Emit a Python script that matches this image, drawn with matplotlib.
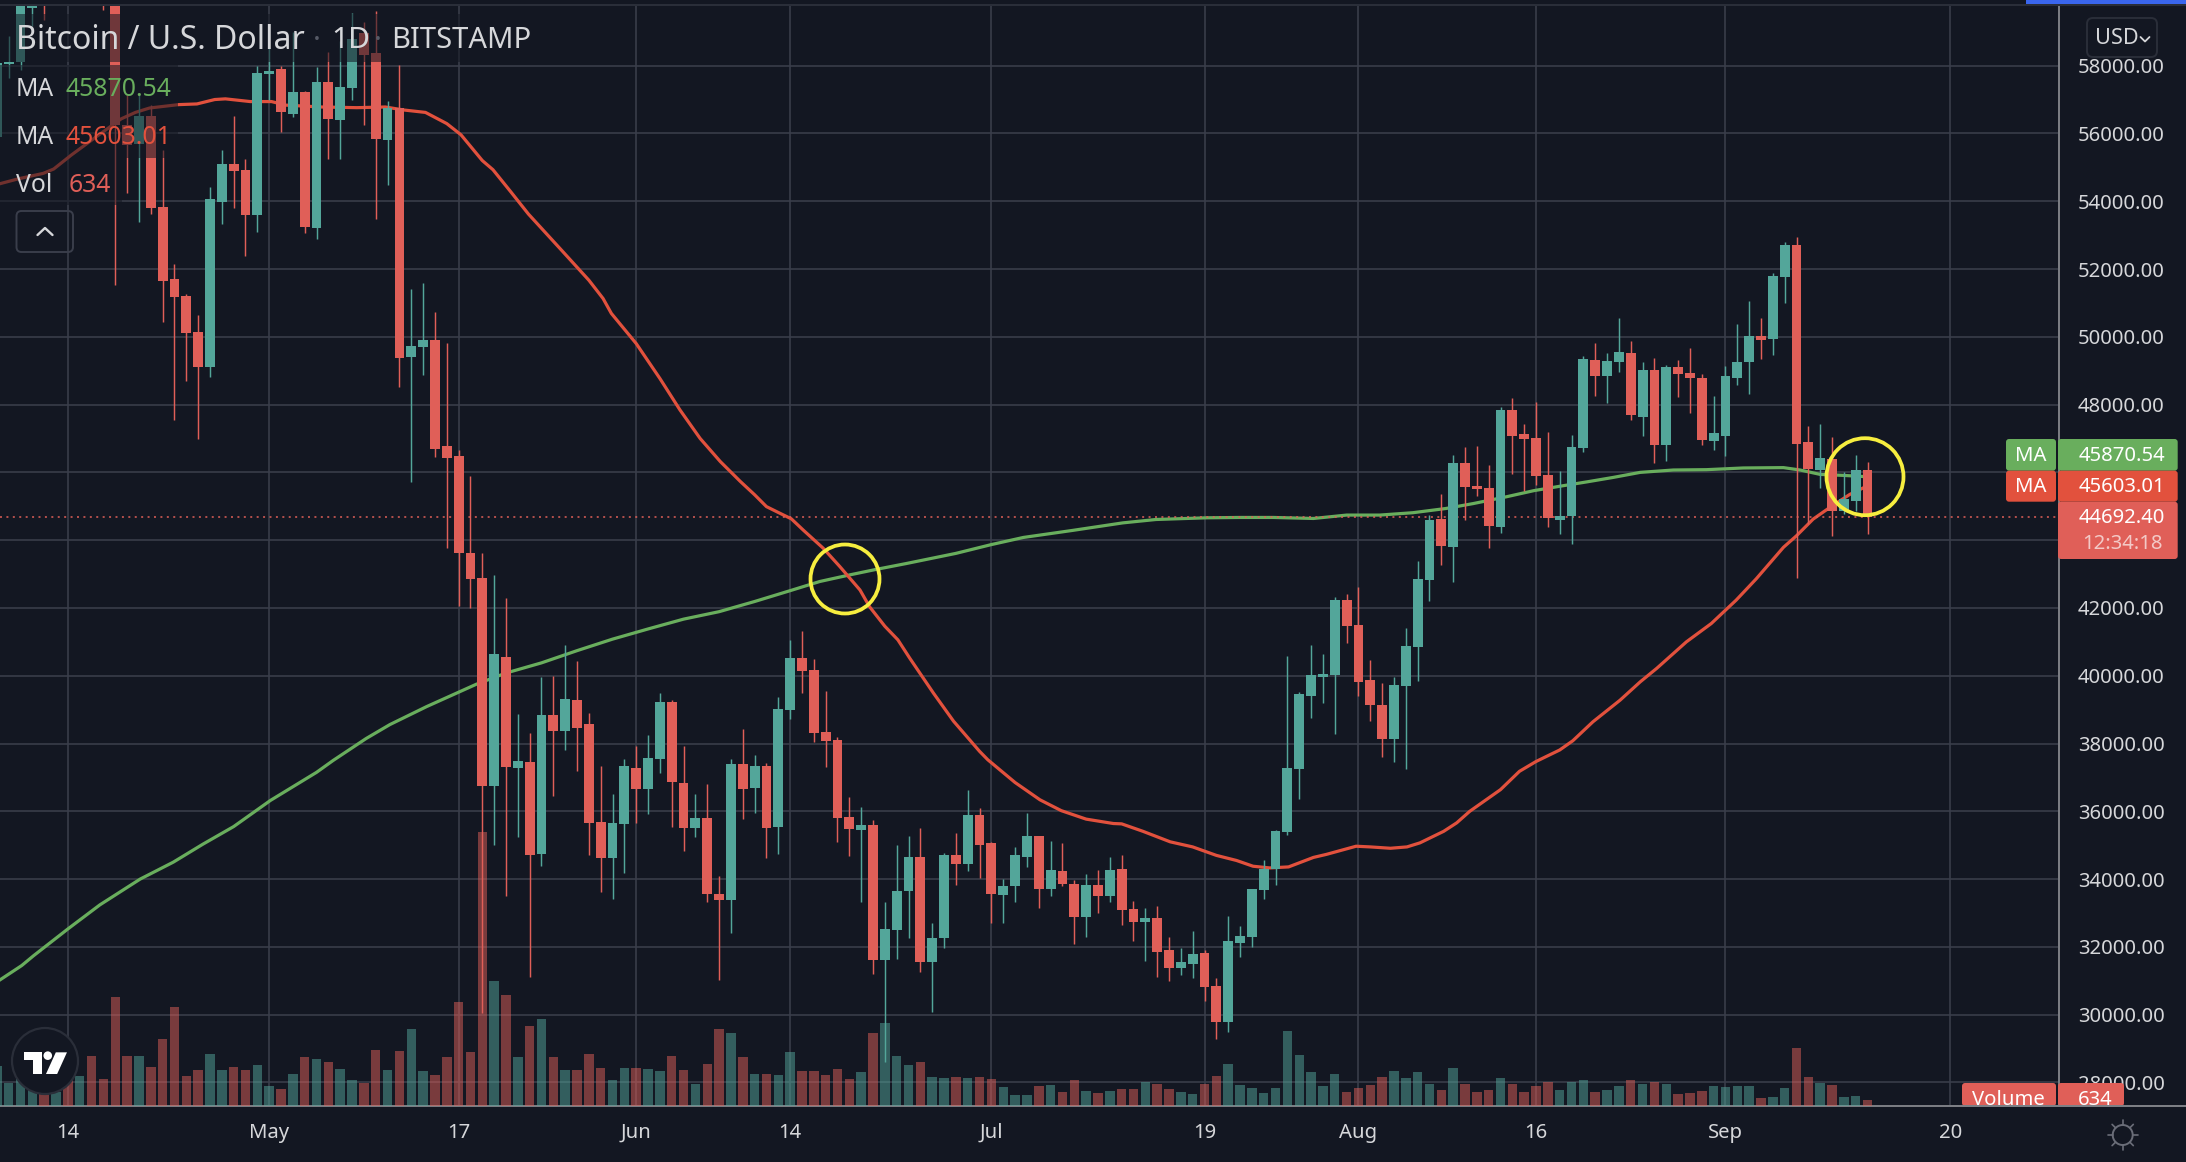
import numpy as np
import matplotlib
matplotlib.use("Agg")
import matplotlib.pyplot as plt
from matplotlib.patches import Circle, FancyBboxPatch, Polygon, Rectangle
from matplotlib.lines import Line2D
from matplotlib.transforms import IdentityTransform, Bbox

# ---------- data (bar index 0 = 14 Apr 2021) ----------
first_bar = -6
open_ = [55890,58040,58110,59700,60200,60000,63500,62950,63200,61400,60050,56240,55690,56500,53840,51700,51200,50140,49100,53990,
         55110,54910,53580,57760,57890,56580,57230,53200,57520,56410,57350,58960,58360,55820,56760,49400,49690,49900,46790,46490,
         43610,42880,36760,40560,37290,37460,34730,38840,38360,39280,38570,35690,34620,35630,37280,36670,37550,39230,36840,35520,
         35810,33570,33390,37400,36690,37350,35540,38990,40520,40170,38350,38110,35830,35450,35600,31600,32510,33660,34660,31560,
         32270,34720,34460,35900,35080,33520,33790,34640,35260,33700,34230,33870,32870,33840,33490,34290,33110,32730,32840,31900,
         31370,31490,31820,30850,29790,32110,32290,33670,34290,35400,37250,39400,39960,40020,42230,41490,39870,39130,38130,39700,
         40850,42820,44620,43790,46270,45590,45530,44380,47830,47130,47010,45920,44590,44710,46710,49310,48840,49250,49520,47630,
         49010,46800,49100,48930,48780,46920,47070,48780,49270,50030,49940,51760,52700,46910,46060,46380,44850,45150,46060]
high = [58700,58880,61000,60300,61200,63800,64850,63800,63500,62500,60400,57130,57130,56840,55500,52140,51250,50640,54410,55520,
        56500,55260,58000,58520,57980,58980,57260,57960,58390,58740,59550,59280,59610,56950,58020,51420,51580,50730,49810,46670,
        45900,43630,42980,42280,38880,38310,39960,39990,40910,40430,38900,37350,36510,37550,37930,38250,39490,39280,37930,36510,
        36800,34100,37550,38430,37660,37420,39370,41050,41310,40490,39550,38190,36430,36140,35750,33310,35010,35280,35520,32710,
        34780,35370,36640,36110,35100,33990,34960,35960,35280,35110,35080,33960,34140,34260,34640,34700,33340,33140,33200,32290,
        31960,32460,31900,31080,32900,32610,33720,34550,35460,40580,39520,40900,40640,42320,42410,42610,40460,39780,39960,41410,
        43380,44740,45360,46510,46740,46770,46210,47920,48190,47420,48070,47190,46040,47100,49430,49810,49520,50550,49870,49250,
        49370,49160,49310,49660,48900,48250,49130,50370,51060,50560,51880,52790,52940,47380,47440,47030,46000,46500,46300]
low = [55700,57650,57870,59180,59340,59900,61300,62000,60000,59650,51530,54250,53380,53620,50430,47550,48690,46980,48810,53320,
       53790,52370,53080,57000,56050,56480,53050,52900,55260,55260,56980,56240,53490,54490,48520,45710,48880,46460,43780,42060,
       42000,30050,35000,33490,35230,31120,34390,36450,37820,37200,34700,33630,33400,34170,35670,35910,37140,35540,34820,35230,
       33320,31010,32400,35780,35940,34610,34750,38720,39490,38040,37310,35100,34690,33310,31210,28590,31650,32270,31250,30070,
       31980,33830,34230,34020,32700,32700,33310,34370,33140,33490,33790,32080,32290,32990,33310,32640,32170,31580,31110,30990,
       31170,31080,30400,29290,29490,31700,31990,33400,33840,35290,36370,38750,39190,38280,40960,39400,38660,37600,37450,37250,
       39840,42200,43260,42760,44590,45300,43760,44210,45950,45450,45620,44380,44180,43880,46600,48250,48040,48960,47540,47070,
       46270,46330,48220,47750,46800,46660,46480,48570,48320,49350,49470,51000,42890,44470,45530,44120,44770,44850,44180]
close = [58090,58100,59900,59760,60000,63500,62950,63200,61400,60050,56240,55660,56500,53790,51660,51160,50110,49100,54080,55110,
         54880,53580,57790,57850,56620,57230,53230,57520,56430,57380,58790,58300,55840,56760,49370,49730,49900,46690,46430,43610,
         42850,36760,40640,37320,37490,34700,38840,38380,39320,38470,35670,34620,35670,37350,36670,37580,39230,36870,35520,35810,
         33550,33390,37400,36670,37350,35520,39020,40520,40140,38310,38080,35810,35490,35600,31600,32540,33660,34660,31560,32270,
         34700,34460,35900,35020,33550,33810,34700,35280,33700,34260,33870,32870,33840,33490,34260,33080,32730,32840,31840,31370,
         31550,31790,30820,29790,32170,32320,33700,34290,35430,37280,39460,40020,40050,42230,41460,39810,39130,38130,39720,40870,
         42850,44590,43820,46270,45560,45500,44410,47830,47070,46980,45890,44650,44710,46740,49340,48840,49280,49550,47690,49010,
         46800,49100,48900,48780,46950,47160,48840,49250,50030,49910,51790,52700,46850,46090,46410,44850,45210,46060,44692]
volume = [4000,2300,2900,2000,1200,1400,2700,3000,5000,2700,10900,5000,5000,3900,6700,9900,3000,3600,5200,3600,
          3900,3600,4100,2000,1700,3200,4900,4700,4400,3700,2600,2300,5600,3600,5500,7700,3500,3100,4900,10400,
          5400,27400,12500,11100,4900,8000,8700,4900,3600,3600,5200,3800,2600,3800,3800,3700,3500,5000,3600,2200,
          4200,7700,7300,4900,3200,3200,3100,5400,3500,3500,3100,3700,2700,3400,7300,8300,5000,4100,4400,2900,
          2800,2900,2800,2900,2700,1900,1100,1100,2000,2100,1400,2600,1500,1300,1500,1700,1700,2400,2200,1700,
          1400,1200,2200,3000,4200,2100,1800,1300,1800,7500,5100,3400,2000,3200,1400,1800,2100,2900,3500,2800,
          3400,2200,1600,3800,2200,1400,1600,2800,2200,1400,2000,2400,1600,2400,2600,1400,1600,2000,2600,2200,
          2400,2200,1200,1300,1500,2000,1900,2000,2000,800,900,1800,5800,2900,2300,2100,900,1000,634]

ma_long_days = [-5.7,-3.9,-2.9,0,2.7,6.1,8.9,11.4,14,17.1,21,22.4,25.2,27.2,30.3,33.1,34.5,37,40,43,46,49,52,55,58,61,63.5,
                66.1,68.3,70.8,75,78,80.7,84.9,89.1,91.9,96.2,99,101.8,105.2,108,110.8,113.6,116.4,118.7,121.5,123.8,126,
                128.3,130.5,132.8,135.6,138.4,141.5,144.9,146.3,148,150,152]
ma_long_vals = [31035,31450,31740,32530,33240,34000,34500,35030,35550,36320,37150,37500,38150,38560,39090,39530,39750,40080,
                40380,40740,41080,41380,41670,41890,42190,42510,42780,42980,43140,43310,43610,43870,44080,44290,44510,44610,
                44660,44670,44670,44640,44740,44740,44810,44935,45080,45280,45460,45590,45720,45850,46000,46070,46080,46130,
                46140,46070,45940,45910,45870.54]
ma_short_days = [-5.7,-4.2,-2.1,-1.2,0.3,1.8,3.3,4.5,5.7,6.9,9.35,10.9,12.4,13.3,15.4,17.2,18.4,21.4,24.4,26.8,28.4,30.2,32,
                 33.2,35,35.9,37.4,38.9,41.6,44,45.2,45.9,48,50,51.7,53.4,55.1,56.8,58,59,60.1,61.1,62.1,63.8,65.2,66.9,
                 67.7,69,70.1,71.1,73.1,74.8,77,77.7,80,82.1,83.9,86,88.3,89,90.8,93.1,95,97,98.7,100.1,101.5,103.1,105.2,
                 106.3,108.8,110,111.7,113.1,114.2,116.2,117.3,118.4,121,122.6,124,126,127.1,128.8,131.1,132.8,134.2,136.7,
                 138.8,140.9,142.6,144.9,146,147.4,149,150.5,152]
ma_short_vals = [54520,54660,54820,54950,55365,55750,56130,56430,56620,56750,56850,56870,57000,57020,56940,56940,56835,56780,
                 56760,56780,56690,56620,56290,55960,55200,54930,54280,53620,52590,51670,51130,50690,49800,48770,47840,47000,
                 46320,45730,45340,44990,44800,44630,44300,43760,43220,42530,42040,41460,41060,40520,39490,38660,37770,37520,
                 36850,36340,36020,35770,35640,35630,35410,35100,34950,34700,34550,34380,34330,34360,34640,34730,34970,34950,
                 34910,34950,35070,35410,35660,36000,36640,37180,37470,37810,38080,38640,39280,39820,40220,41000,41540,42230,
                 42860,43790,44130,44620,45010,45350,45603.01]

last_price = 44692.40
price_ticks = list(range(28000, 60000, 2000))
hidden_price_labels = {44000, 46000}
date_ticks = [0, 17, 33, 48, 61, 78, 96, 109, 124, 140, 159]
date_labels = ["14", "May", "17", "Jun", "14", "Jul", "19", "Aug", "16", "Sep", "20"]

# ---------- style ----------
W, H = 2186, 1162
BG = "#131722"; GRID = "#3a3e4b"; AXIS = "#7d7f85"; TXT = "#d6d7da"
UP = "#53a69a"; DOWN = "#e05f58"; MA_G = "#69ae5d"; MA_R = "#e2513d"; YEL = "#f7ee3f"
plt.rcParams["font.family"] = ["Noto Sans", "DejaVu Sans"]
FS = 14.6

fig = plt.figure(figsize=(W / 100, H / 100), dpi=100, facecolor=BG)
rect = [0, (H - 1106) / H, 2059 / W, 1101 / H]
xlim = (-5.735, 168.17)
ylim = (27306, 59789)

days = np.arange(first_bar, first_bar + len(close))
o, h, l, c = map(np.array, (open_, high, low, close))
cols = [UP if cc >= oo else DOWN for oo, cc in zip(o, c)]

# grid and axis labels
axg = fig.add_axes(rect, facecolor=BG, zorder=0)
axg.set_xlim(xlim); axg.set_ylim(ylim)
axg.set_yticks(price_ticks)
axg.set_yticklabels(["" if p in hidden_price_labels else f"{p:.2f}" for p in price_ticks], fontsize=FS, color=TXT)
axg.set_xticks(date_ticks)
axg.set_xticklabels(date_labels, fontsize=FS, color=TXT)
axg.yaxis.tick_right()
axg.tick_params(axis="y", length=0, pad=13.5)
axg.tick_params(axis="x", length=0, pad=12)
axg.grid(True, color=GRID, lw=1.15)
axg.set_axisbelow(True)
for s in ("left", "top"):
    axg.spines[s].set_visible(False)
for s in ("right", "bottom"):
    axg.spines[s].set_color(AXIS); axg.spines[s].set_linewidth(1.4)

# volume
axv = fig.add_axes(rect, facecolor="none", zorder=1)
axv.set_xlim(xlim); axv.set_ylim(0, 110100); axv.axis("off")
axv.bar(days, volume, width=0.8, color=cols, alpha=0.5, linewidth=0)

# candles
ax = fig.add_axes(rect, facecolor="none", zorder=2)
ax.set_xlim(xlim); ax.set_ylim(ylim); ax.axis("off")
ax.plot(ma_long_days, ma_long_vals, color=MA_G, lw=2.3, zorder=1, solid_joinstyle="round")
ax.plot(ma_short_days, ma_short_vals, color=MA_R, lw=2.3, zorder=1.1, solid_joinstyle="round")
ax.axhline(last_price, color=DOWN, lw=1.1, ls=(0, (1.3, 2.9)), zorder=1.5)
ax.vlines(days, l, h, colors=cols, lw=1.05, zorder=2)
ax.bar(days, np.abs(c - o), bottom=np.minimum(o, c), width=0.83, color=cols, linewidth=0, zorder=2.1)

# ---------- helpers in pixel space ----------
ID = IdentityTransform()
def box(x0, y0, x1, y1, fc="none", ec="none", lw=0, r=0, alpha=None, z=5):
    if r:
        p = FancyBboxPatch((x0, H - y1), x1 - x0, y1 - y0, boxstyle=f"round,pad=0,rounding_size={r}",
                           fc=fc, ec=ec, lw=lw, alpha=alpha, transform=ID, zorder=z)
    else:
        p = Rectangle((x0, H - y1), x1 - x0, y1 - y0, fc=fc, ec=ec, lw=lw, alpha=alpha, transform=ID, zorder=z)
    fig.add_artist(p)
    return p
def label(x, y, s, color=TXT, size=FS, ha="center", z=7, **kw):
    return fig.text(x / W, 1 - y / H, s, color=color, fontsize=size, ha=ha, va="center", zorder=z, **kw)
def seg(pts, color, lw, z=7):
    xs = [p[0] for p in pts]; ys = [H - p[1] for p in pts]
    fig.add_artist(Line2D(xs, ys, color=color, lw=lw, transform=ID, zorder=z, solid_capstyle="round"))

# legend veils and text
box(0, 14, 535, 62, fc=BG, alpha=0.55)
box(0, 65, 178, 158, fc=BG, alpha=0.55)
box(0, 158, 122, 205, fc=BG, alpha=0.55)
label(16, 40.5, "Bitcoin / U.S. Dollar", size=23, ha="left")
label(317, 40.5, "·", color="#565a66", size=21)
label(331, 40.5, "1D", size=21.5, ha="left")
label(378, 40.5, "·", color="#565a66", size=21)
label(391, 40.5, "BITSTAMP", size=21, ha="left")
label(16, 89.5, "MA", size=17.8, ha="left")
label(66, 89.5, "45870.54", color=MA_G, size=17.8, ha="left")
label(16, 137.5, "MA", size=17.8, ha="left")
label(66, 137.5, "45603.01", color=MA_R, size=17.8, ha="left")
label(16, 185.5, "Vol", size=17.8, ha="left")
label(69, 185.5, "634", color=DOWN, size=17.8, ha="left")
box(16.5, 211, 73, 252, ec=GRID, lw=1.4, r=5)
seg([(37.5, 235), (45, 228), (52.5, 235)], "#d6d7da", 1.7)

# yellow circles
fig.add_artist(Circle((845, H - 579), 34.5, fc="none", ec=YEL, lw=2.7, transform=ID, zorder=6))
fig.add_artist(Circle((1865, H - 476.7), 38.5, fc="none", ec=YEL, lw=2.7, transform=ID, zorder=6))

# price tags
box(2006, 439, 2056, 470.7, fc=MA_G, r=3)
box(2058, 439, 2177.7, 470.7, fc=MA_G, r=3)
box(2006, 470.7, 2056, 501.7, fc=MA_R, r=3)
box(2058, 470.7, 2177.7, 501.7, fc=MA_R, r=3)
box(2058, 501.7, 2177.7, 559, fc=DOWN, r=3)
label(2031, 456.5, "MA", color="white")
label(2122, 456.5, "45870.54", color="white")
label(2031, 487.5, "MA", color="white")
label(2122, 487.5, "45603.01", color="white")
label(2122, 518, "44692.40", color="white")
label(2122, 544, "12:34:18", color="#f3c9c6")

# volume tag (cut by the pane edge)
box(1962, 1083, 2056, 1106, fc=DOWN, r=3)
box(2058, 1083, 2124, 1106, fc=DOWN, r=3)
clip = Bbox([[1900, H - 1105], [2186, H - 1070]])
for t in (label(2008, 1100, "Volume", color="white"), label(2095, 1100, "634", color="white")):
    t.set_clip_on(True); t.set_clip_box(clip)
box(1950, 1105, 2186, 1107, fc=AXIS)

# top strip and USD button
box(0, 4, W, 6, fc="#2a2e39", z=4)
box(2026, 0, W, 4, fc="#3a66ee")
box(2087, 18, 2157, 57, fc=BG, ec="#2a2e39", lw=1.4, r=6, z=5)
label(2095, 39, "USD", size=15.6, ha="left")
seg([(2140.5, 37), (2145, 41.5), (2149.5, 37)], TXT, 1.3)

# logo
fig.add_artist(Circle((45, H - 1061), 33, fc=BG, ec="#2a2e39", lw=1.6, transform=ID, zorder=5))
def lg(zx, zy):
    return (zx / 2.24, H - (960 + zy / 3))
for poly in ([(54, 277), (95, 277), (95, 342), (73, 342), (73, 300), (54, 300)],
             [(125, 277), (150, 277), (128, 342), (103, 342)]):
    fig.add_artist(Polygon([lg(*p) for p in poly], closed=True, fc="white", ec="none", transform=ID, zorder=6))
fig.add_artist(Circle(lg(107, 287), 4.3, fc="white", ec="none", transform=ID, zorder=6))

# gear
gx, gy = 2122.7, 1135
fig.add_artist(Circle((gx, H - gy), 10, fc="none", ec="#6a6d78", lw=1.4, transform=ID, zorder=6))
for a in np.deg2rad(np.arange(0, 360, 45)):
    seg([(gx + 10 * np.cos(a), gy + 10 * np.sin(a)), (gx + 15 * np.cos(a), gy + 15 * np.sin(a))], "#6a6d78", 1.2, z=6)

fig.savefig("out.png", dpi=100, facecolor=BG)
